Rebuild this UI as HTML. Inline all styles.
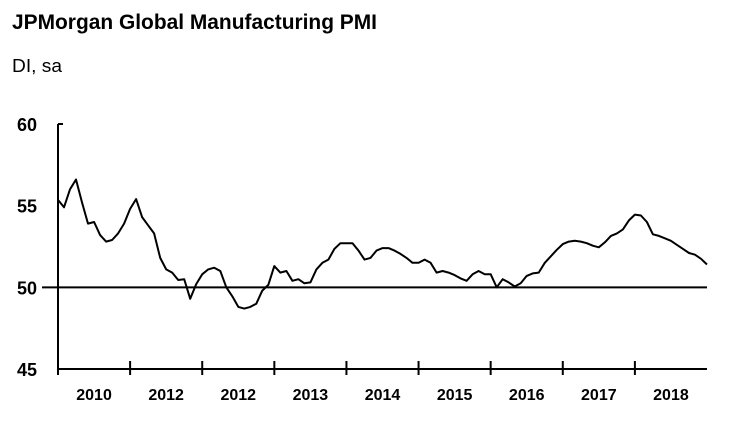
<!DOCTYPE html>
<html><head><meta charset="utf-8"><style>
html,body{margin:0;padding:0;background:#fff;}
svg{display:block;font-family:"Liberation Sans",Arial,sans-serif;}
</style></head><body>
<svg id="chart" width="735" height="423" viewBox="0 0 735 423">
<text x="12" y="29" font-size="21" font-weight="bold" textLength="365" lengthAdjust="spacingAndGlyphs">JPMorgan Global Manufacturing PMI</text>
<text x="12" y="72" font-size="18" textLength="50" lengthAdjust="spacingAndGlyphs">DI, sa</text>
<g id="axes"></g>
<path id="line" fill="none" stroke="#000" stroke-width="2" stroke-linejoin="round"/>
</svg>
<script>
const yearLabels=["2010","2012","2012","2013","2014","2015","2016","2017","2018"];
const yTicks=[45,50,55,60];
const pmi=[55.35,54.9,56.0,56.6,55.2,53.9,54.0,53.2,52.8,52.9,53.3,53.9,54.8,55.4,54.3,53.8,53.3,51.8,51.1,50.9,50.45,50.5,49.3,50.2,50.8,51.1,51.2,51.0,50.0,49.45,48.8,48.7,48.8,49.0,49.8,50.15,51.3,50.9,51.0,50.4,50.5,50.25,50.3,51.1,51.5,51.7,52.35,52.7,52.7,52.7,52.25,51.7,51.8,52.25,52.4,52.4,52.25,52.05,51.8,51.5,51.5,51.7,51.5,50.9,51.0,50.9,50.75,50.55,50.4,50.8,51.0,50.8,50.8,50.0,50.5,50.3,50.05,50.25,50.7,50.85,50.9,51.5,51.9,52.3,52.65,52.8,52.85,52.8,52.7,52.55,52.45,52.75,53.15,53.3,53.55,54.1,54.45,54.4,54.0,53.25,53.15,53.0,52.85,52.6,52.35,52.1,52.0,51.75,51.4];
const x0=58,x1=707,yTop=124,yBot=369,vMin=45,vMax=60,mPerYear=12;
const pxPerMonth=(x1-x0)/(yearLabels.length*mPerYear);
function xs(i){return x0+i*pxPerMonth;}
function ys(v){return yBot-(v-vMin)/(vMax-vMin)*(yBot-yTop);}
const NS="http://www.w3.org/2000/svg";
const g=document.getElementById('axes');
function mk(t,a,txt){const e=document.createElementNS(NS,t);for(const k in a)e.setAttribute(k,a[k]);if(txt!==undefined)e.textContent=txt;g.appendChild(e);return e;}
let e;
e=mk('line',{x1:x0,y1:yTop,x2:x0,y2:yBot+1,stroke:'#000','stroke-width':2});


e=mk('line',{x1:x0,y1:yTop,x2:x0+5,y2:yTop,stroke:'#000','stroke-width':2});


e=mk('line',{x1:x0-1,y1:yBot,x2:x1,y2:yBot,stroke:'#000','stroke-width':2});


e=mk('line',{x1:x0-16,y1:ys(50),x2:x1,y2:ys(50),stroke:'#000','stroke-width':2});


yTicks.forEach(v=>{
  e=mk('text',{x:37,y:ys(v)+7,'font-size':18,'font-weight':'bold','text-anchor':'end'},String(v));
  
  
});
yearLabels.forEach((lab,k)=>{
  const xa=x0+k*mPerYear*pxPerMonth;
  e=mk('line',{x1:xa,y1:yBot-8,x2:xa,y2:yBot+6,stroke:'#000','stroke-width':2});
  
  
  e=mk('text',{x:xa+mPerYear*pxPerMonth/2,y:400,'font-size':16,'font-weight':'bold','text-anchor':'middle'},lab);
  
  
});
document.getElementById('line').setAttribute('d',pmi.map((v,i)=>(i?'L':'M')+xs(i).toFixed(1)+' '+ys(v).toFixed(1)).join(' '));
</script>
</body></html>
